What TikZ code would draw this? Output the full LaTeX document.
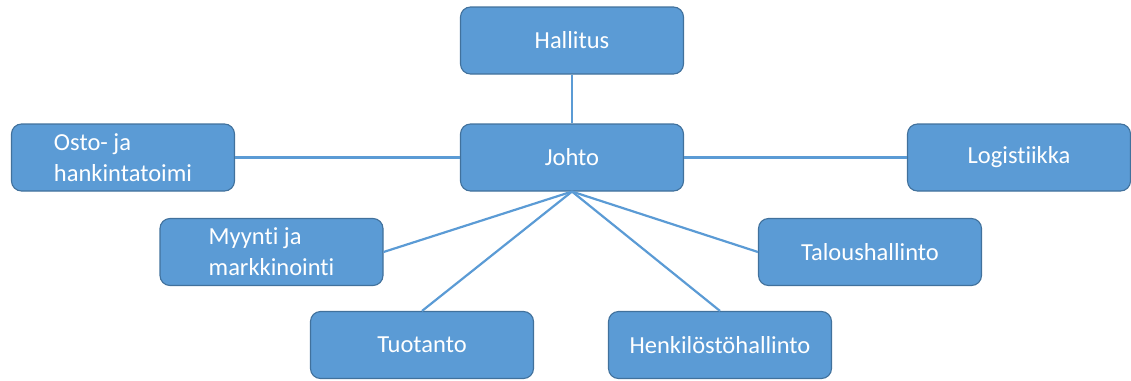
\documentclass[tikz,border=0pt]{standalone}
\usepackage{fontspec}
\setmainfont{Carlito}[Ligatures=NoCommon]
\definecolor{boxfill}{HTML}{5B9BD5}
\definecolor{boxline}{HTML}{41719C}
\begin{document}
\begin{tikzpicture}[x=1pt,y=-1pt,
  box/.style={draw=boxline, line width=1.1pt, fill=boxfill, rounded corners=10pt,
    minimum width=223pt, minimum height=67pt, inner sep=0pt, text=white,
    font=\fontsize{24.5}{31}\selectfont, align=left},
  conn/.style={draw=boxfill, line width=2.2pt}]
\useasboundingbox (0,0) rectangle (1131,380);
\node[box] (hallitus) at (572,40.5) {Hallitus};
\node[box] (johto) at (572,157.5) {Johto};
\node[box] (osto) at (123,157.5) {Osto- ja\\hankintatoimi};
\node[box] (logistiikka) at (1019,157.5) {Logistiikka};
\node[box] (myynti) at (271.5,252) {Myynti ja\\markkinointi};
\node[box] (talous) at (870,252) {Taloushallinto};
\node[box] (tuotanto) at (422,345) {Tuotanto};
\node[box] (henkilosto) at (720,345) {Henkilöstöhallinto};
\draw[conn] (hallitus.south) -- (johto.north);
\draw[conn] (osto.east) -- (johto.west);
\draw[conn] (johto.east) -- (logistiikka.west);
\draw[conn] (johto.south) -- (myynti.east);
\draw[conn] (johto.south) -- (tuotanto.north);
\draw[conn] (johto.south) -- (henkilosto.north);
\draw[conn] (johto.south) -- (talous.west);
\end{tikzpicture}
\end{document}
